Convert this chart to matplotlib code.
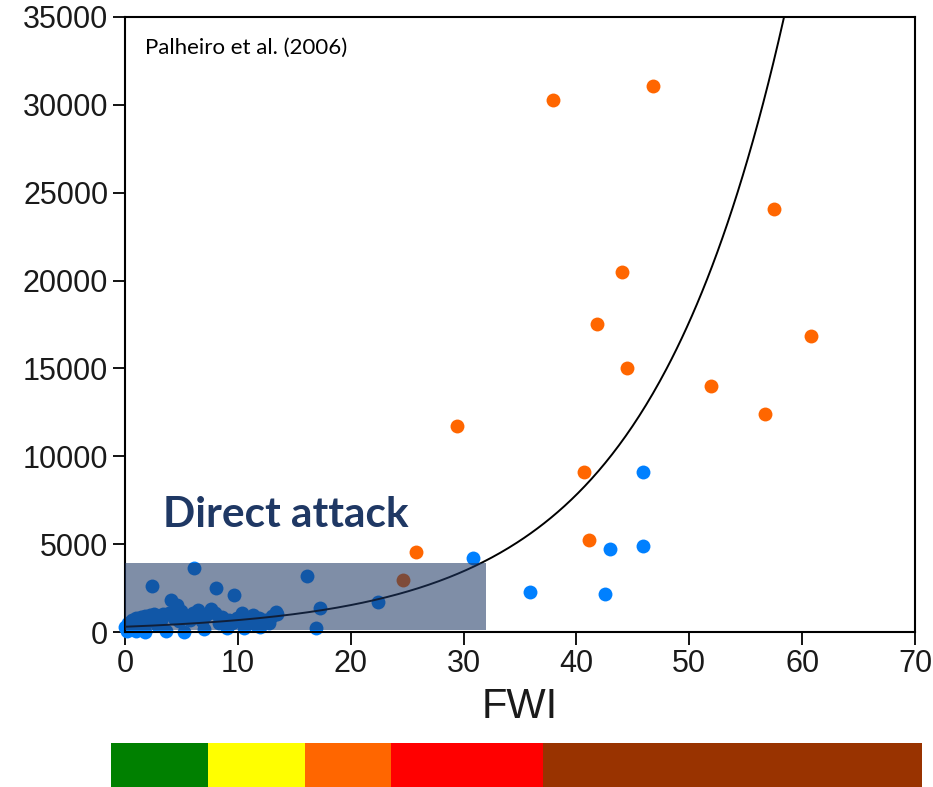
import matplotlib
matplotlib.use("Agg")
import matplotlib.pyplot as plt
import numpy as np
from matplotlib.patches import Rectangle

# ---------------- data ----------------
# Fires with small burnt area (blue)
blue_fwi = [6.1, 16.1, 2.4, 8.1, 9.7, 22.4, 17.3, 16.9, 12.8, 13.5, 4.1, 4.6,
            0.0, 0.3, 0.6, 1.0, 1.4, 1.8, 2.2, 2.6, 3.0, 3.4, 3.9, 5.0, 5.5,
            6.0, 6.5, 7.0, 7.6, 8.0, 8.6, 9.2, 9.9, 10.4, 11.3, 11.6, 12.4,
            13.4, 0.2, 1.0, 1.8, 3.6, 5.2, 7.0, 9.0, 10.5, 12.0, 0.5, 2.8, 4.8,
            1.2, 2.0, 3.2, 4.3, 5.8, 6.8, 7.3, 8.3, 9.5, 10.8, 11.9, 12.8, 13.0,
            30.8, 43.0, 45.9, 45.9, 35.9, 42.5]
blue_area = [3650, 3190, 2620, 2510, 2100, 1710, 1370, 230, 680, 1030, 1820, 1540,
             300, 500, 700, 800, 850, 900, 950, 1000, 900, 1050, 1100, 1200, 900,
             1100, 1250, 850, 1300, 1100, 860, 700, 800, 1080, 970, 400, 700,
             1140, 50, 30, 20, 30, 20, 150, 200, 250, 300, 200, 400, 600,
             500, 600, 700, 800, 700, 600, 1000, 500, 500, 600, 800, 500, 900,
             4220, 4730, 4900, 9120, 2280, 2170]

# Fires with large burnt area (orange)
orange_fwi = [37.9, 46.8, 57.5, 44.0, 41.8, 44.5, 60.8, 51.9, 56.7, 29.4, 40.7,
              41.1, 25.8, 24.6]
orange_area = [30300, 31100, 24050, 20500, 17550, 15050, 16850, 14000, 12400,
               11750, 9100, 5250, 4550, 2950]

# Fitted exponential curve: area = a * exp(b * FWI)
curve_a = 300.0
curve_b = 0.0815
curve_fwi_max = 60.0

# Direct attack capacity box
attack_fwi_max = 32
attack_area_min = 100
attack_area_max = 3950

x_ticks = [0, 10, 20, 30, 40, 50, 60, 70]
y_ticks = [0, 5000, 10000, 15000, 20000, 25000, 30000, 35000]

# FWI danger classes bar (relative widths)
class_widths = [12.0, 12.0, 10.6, 18.7, 46.7]
class_colors = ["#008000", "#FFFF00", "#FF6600", "#FF0000", "#993300"]

# ---------------- figure ----------------
fig = plt.figure(figsize=(9.33, 7.87), dpi=100)
ax = fig.add_axes([125 / 933, 1 - 632 / 787, 790 / 933, 615 / 787])

ax.scatter(blue_fwi, blue_area, s=100, color="#0080FF", linewidths=0, zorder=2,
           clip_on=False)
ax.scatter(orange_fwi, orange_area, s=100, color="#FF6600", linewidths=0, zorder=2,
           clip_on=False)

xc = np.linspace(0, curve_fwi_max, 400)
ax.plot(xc, curve_a * np.exp(curve_b * xc), color="black", lw=1.4, zorder=2.5)

ax.add_patch(Rectangle((0, attack_area_min), attack_fwi_max,
                       attack_area_max - attack_area_min,
                       facecolor="#1F3864", alpha=0.57, edgecolor="none", zorder=3))

ax.text(3.4, 5976, "Direct attack", fontfamily="Lato", fontweight="bold",
        fontsize=30.5, color="#1F3864", ha="left", va="baseline", zorder=4)
ax.text(0.0253, 0.9496, "Palheiro et al. (2006)", transform=ax.transAxes,
        fontfamily="Lato", fontsize=16, color="black", ha="left", va="center")

ax.set_xlim(0, 70)
ax.set_ylim(0, 35000)
ax.set_xticks(x_ticks)
ax.set_yticks(y_ticks)
ax.set_xticklabels([str(v) for v in x_ticks])
ax.set_yticklabels([str(v) for v in y_ticks])
ax.tick_params(direction="out", length=9, width=1.3, labelsize=22,
               labelcolor="#1a1a1a", pad=3)
for lab in ax.get_xticklabels() + ax.get_yticklabels():
    lab.set_fontfamily("Liberation Sans")
for sp in ax.spines.values():
    sp.set_linewidth(1.5)

ax.set_xlabel("FWI", fontfamily="Liberation Sans", fontsize=30, labelpad=6,
              color="#1a1a1a")

# danger class bar
bax = fig.add_axes([110.6 / 933, 0, 811.4 / 933, 44 / 787])
left = 0
for w, c in zip(class_widths, class_colors):
    bax.barh(0, w, left=left, height=1, color=c, edgecolor="none")
    left += w
bax.set_xlim(0, sum(class_widths))
bax.set_ylim(-0.5, 0.5)
bax.axis("off")

fig.savefig("out.png", dpi=100)
